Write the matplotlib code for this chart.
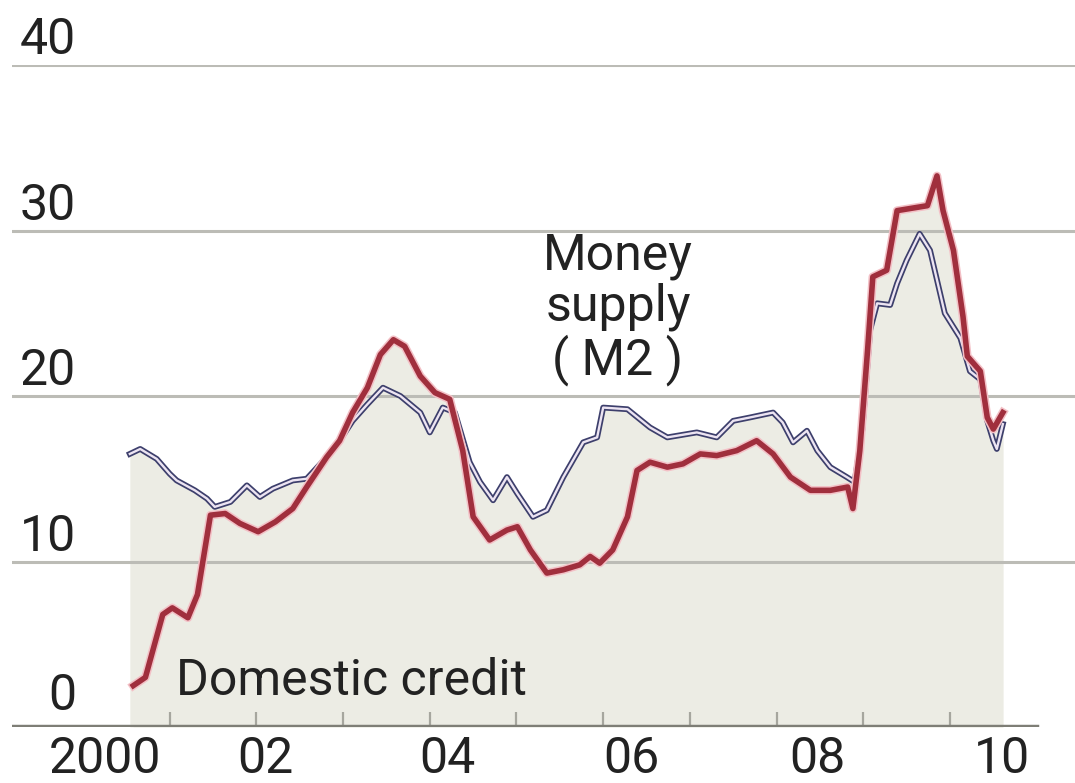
import matplotlib
matplotlib.use("Agg")
import matplotlib.pyplot as plt
import matplotlib.transforms as mtransforms

# ---- data (decimal years, % growth, year on year) ----
credit_years = [2000.58, 2000.72, 2000.92, 2001.03, 2001.21, 2001.32, 2001.47, 2001.64, 2001.81,
                2002.02, 2002.22, 2002.42, 2002.58, 2002.81, 2002.96, 2003.11, 2003.28, 2003.43,
                2003.58, 2003.71, 2003.89, 2004.06, 2004.23, 2004.38, 2004.50, 2004.69, 2004.89,
                2005.01, 2005.16, 2005.35, 2005.54, 2005.73, 2005.85, 2005.96, 2006.11, 2006.28,
                2006.39, 2006.54, 2006.74, 2006.92, 2007.12, 2007.31, 2007.54, 2007.77, 2007.96,
                2008.16, 2008.39, 2008.62, 2008.82, 2008.88, 2008.96, 2009.05, 2009.11, 2009.27,
                2009.39, 2009.74, 2009.85, 2009.92, 2010.04, 2010.15, 2010.20, 2010.35, 2010.43,
                2010.50, 2010.61]
credit_vals = [2.5, 3.0, 6.8, 7.2, 6.6, 8.0, 12.8, 12.9, 12.3,
               11.8, 12.4, 13.2, 14.5, 16.3, 17.3, 19.0, 20.5, 22.5,
               23.4, 23.0, 21.2, 20.2, 19.8, 16.7, 12.7, 11.3, 11.9,
               12.1, 10.7, 9.3, 9.5, 9.8, 10.3, 9.9, 10.7, 12.7,
               15.5, 16.0, 15.7, 15.9, 16.5, 16.4, 16.7, 17.3, 16.5,
               15.1, 14.3, 14.3, 14.5, 13.2, 16.7, 22.8, 27.2, 27.6,
               31.2, 31.5, 33.3, 31.2, 28.8, 24.8, 22.4, 21.5, 18.7,
               18.0, 19.0]

m2_years = [2000.54, 2000.66, 2000.85, 2001.00, 2001.08, 2001.29, 2001.43, 2001.52, 2001.70,
            2001.89, 2002.04, 2002.19, 2002.42, 2002.58, 2002.81, 2002.96, 2003.11, 2003.28,
            2003.46, 2003.66, 2003.89, 2004.00, 2004.15, 2004.29, 2004.46, 2004.58, 2004.73,
            2004.89, 2005.01, 2005.19, 2005.35, 2005.54, 2005.77, 2005.93, 2006.00, 2006.28,
            2006.54, 2006.74, 2007.08, 2007.31, 2007.50, 2007.69, 2007.96, 2008.07, 2008.19,
            2008.35, 2008.47, 2008.62, 2008.81, 2008.90, 2008.99, 2009.08, 2009.16, 2009.31,
            2009.39, 2009.50, 2009.65, 2009.77, 2009.94, 2010.12, 2010.23, 2010.35, 2010.43,
            2010.50, 2010.54, 2010.61]
m2_vals = [16.5, 16.8, 16.2, 15.3, 14.9, 14.3, 13.8, 13.3, 13.6,
           14.6, 13.9, 14.4, 14.9, 15.0, 16.3, 17.3, 18.5, 19.5,
           20.5, 20.0, 19.0, 17.8, 19.3, 19.0, 16.0, 14.8, 13.7,
           15.1, 14.1, 12.7, 13.1, 15.1, 17.2, 17.5, 19.3, 19.2,
           18.1, 17.5, 17.8, 17.5, 18.5, 18.7, 19.0, 18.4, 17.2,
           17.9, 16.7, 15.7, 15.1, 14.8, 18.0, 24.0, 25.6, 25.5,
           26.8, 28.2, 29.8, 28.8, 25.0, 23.5, 21.5, 21.0, 18.5,
           17.3, 16.8, 18.3]

yticks = [0, 10, 20, 30, 40]
year_ticks = list(range(2001, 2011))
label_pos = [2000.25, 2002.1, 2004.2, 2006.33, 2008.47, 2010.6]
label_text = ["2000", "02", "04", "06", "08", "10"]

# ---- figure ----
W, H, DPI = 1075, 783, 100
fig = plt.figure(figsize=(W / DPI, H / DPI), dpi=DPI)
fig.patch.set_facecolor("white")
left_px, right_px, top_px, bot_px = 12, 1075, 65, 727
ax = fig.add_axes([left_px / W, 1 - bot_px / H, (right_px - left_px) / W, (bot_px - top_px) / H])
ax.set_facecolor("white")
X0, X1 = 1999.181, 2011.442
ax.set_xlim(X0, X1)
ax.set_ylim(0, 40)
for s in ax.spines.values():
    s.set_visible(False)

FONT = "Roboto"
fs = 36
tc = "#222222"

# area fill (union of areas under both series)
fill_c = "#ecece4"
ax.fill_between(credit_years, 0, credit_vals, color=fill_c, lw=0, zorder=1)
ax.fill_between(m2_years, 0, m2_vals, color=fill_c, lw=0, zorder=1)

# gridlines and baseline
for v in yticks[1:]:
    ax.axhline(v, color="#bcbcb6", lw=2.2, zorder=2)
ax.axhline(0, xmax=(2011.0 - X0) / (X1 - X0), color="#7e7e76", lw=3.2, zorder=3)

# series
ax.plot(m2_years, m2_vals, color="#3d3f6c", lw=4.2, solid_joinstyle="round", zorder=4)
ax.plot(m2_years, m2_vals, color="#ece4f2", lw=1.7, solid_joinstyle="round", zorder=4)
ax.plot(credit_years, credit_vals, color="#f3c0c6", lw=6.2, solid_joinstyle="round", zorder=5)
ax.plot(credit_years, credit_vals, color="#a02f3d", lw=4.0, solid_joinstyle="round", zorder=6)

# ticks
ax.set_yticks([])
ax.set_xticks(year_ticks)
ax.set_xticklabels([])
ax.tick_params(axis="x", which="major", direction="in", length=11, width=1.6, color="#a6a69e")
ax.set_xticks(label_pos, minor=True)
ax.set_xticklabels(label_text, minor=True, fontsize=fs, family=FONT, color=tc)
ax.tick_params(axis="x", which="minor", length=0, pad=6)

# y labels sitting above gridlines
trans = mtransforms.blended_transform_factory(fig.transFigure, ax.transData)
for v in yticks:
    ax.text(76 / W, v + (0.05 if v > 0 else 0.45), str(v), transform=trans,
            fontsize=fs, family=FONT, color=tc, ha="right", va="bottom", zorder=7)

# annotations
ax.text(2001.07, 1.3, "Domestic credit", fontsize=fs, family=FONT, color=tc,
        ha="left", va="bottom", zorder=7)
ax.text(2006.17, 20.6, "Money\nsupply\n( M2 )", fontsize=fs, family=FONT, color=tc,
        ha="center", va="bottom", linespacing=1.08, zorder=7)

fig.savefig("out.png", dpi=DPI, facecolor="white")
